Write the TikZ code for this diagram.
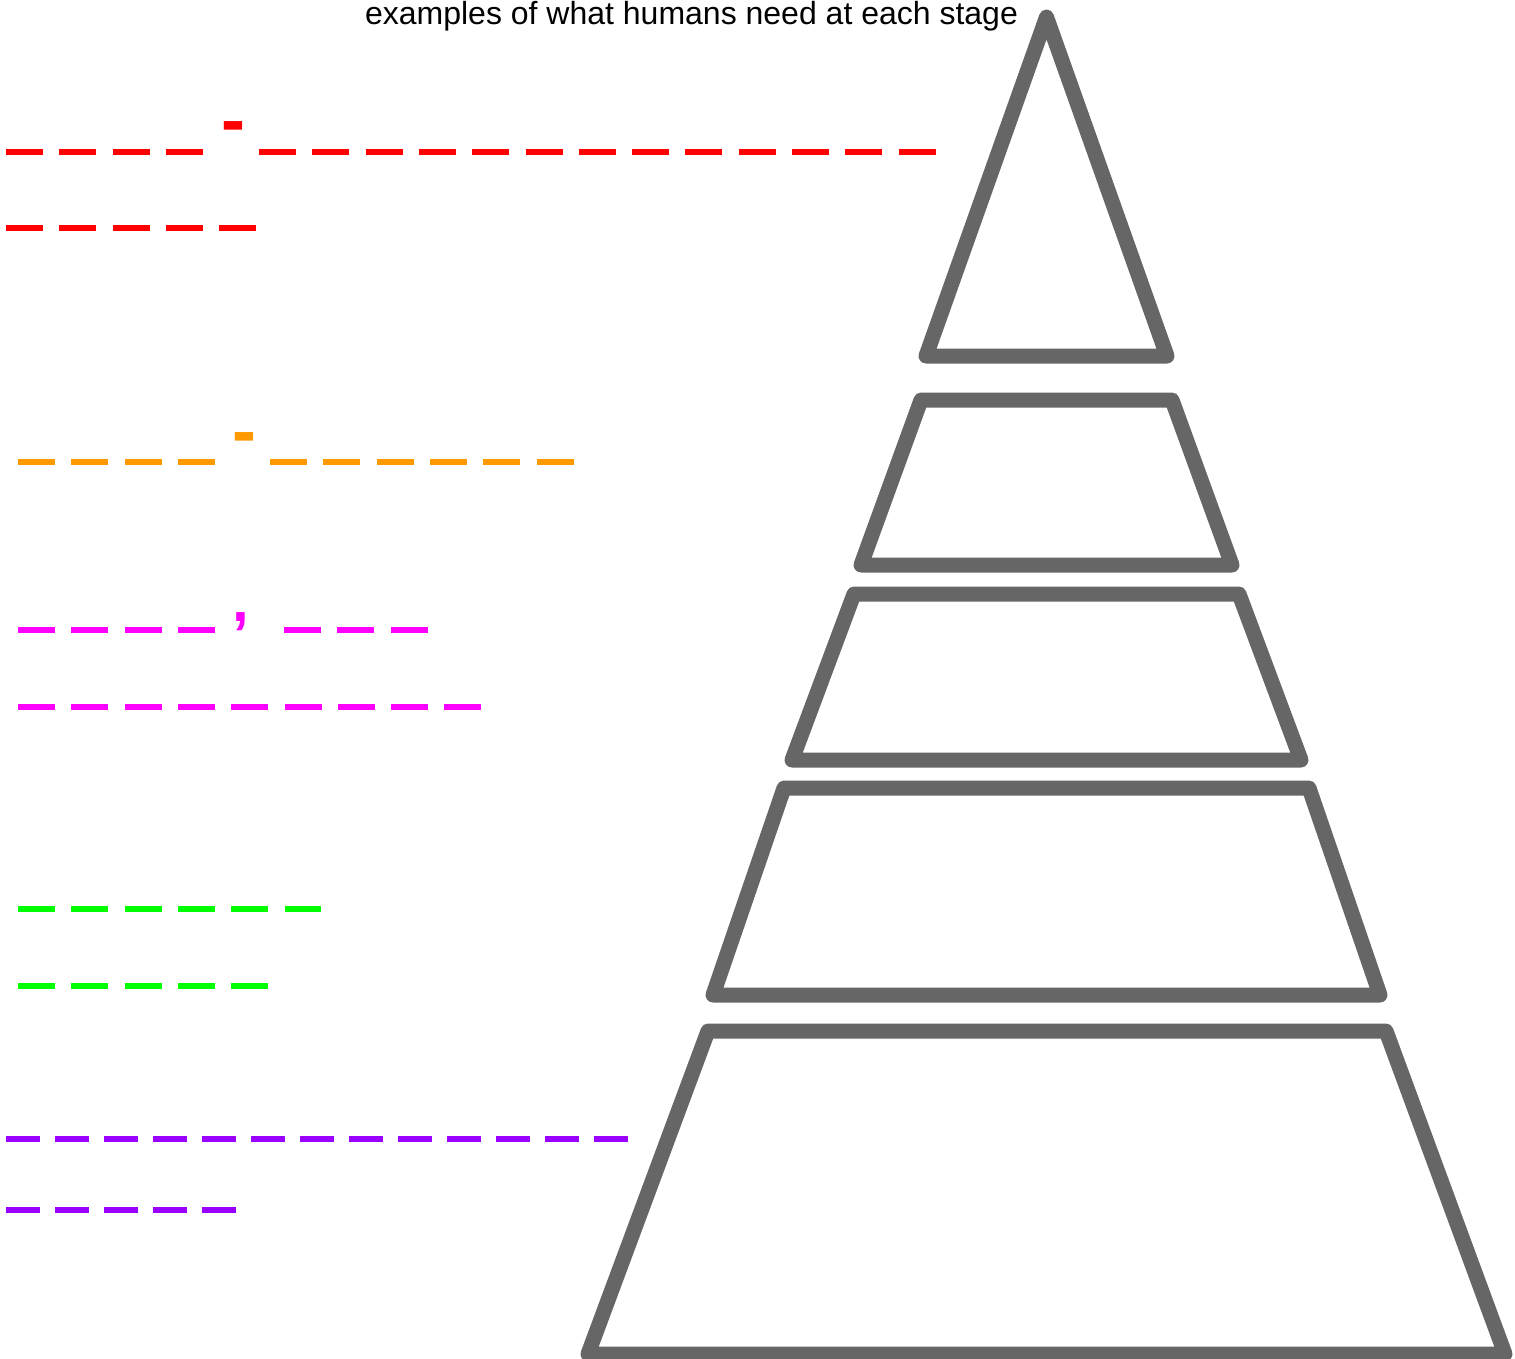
\documentclass[tikz,border=0pt]{standalone}
\usepackage{fontspec}
\setmainfont{Liberation Sans}
\usepackage{xcolor}
\usetikzlibrary{positioning}
\definecolor{tiergray}{HTML}{666666}
\definecolor{stagered}{HTML}{FF0000}
\definecolor{stageorange}{HTML}{FF9900}
\definecolor{stagepink}{HTML}{FF00FF}
\definecolor{stagegreen}{HTML}{00FF00}
\definecolor{stagepurple}{HTML}{9900FF}
\tikzset{
  tier/.style={draw=tiergray, line width=7.5pt, line join=round},
  blankline/.style={line width=3pt, dash pattern=on 18.5pt off 8.15pt},
  blankshort/.style={line width=3pt, dash pattern=on 17pt off 7.5pt},
  punct/.style={inner sep=0pt, anchor=north, font=\fontsize{36pt}{36pt}\selectfont\bfseries},
  heading/.style={inner sep=0pt, anchor=base, font=\fontsize{16pt}{19pt}\selectfont},
}

\begin{document}
\begin{tikzpicture}[x=0.5pt, y=-0.5pt]
  \useasboundingbox (0,0) rectangle (1515,1359);

  \node[heading] (title) at (691.5,25) {examples of what humans need at each stage};

  % pyramid, top to bottom
  \draw[tier] (1046.5,17) -- (1167,356) -- (926,356) -- cycle;
  \draw[tier] (921,400) -- (1172,400) -- (1232,565) -- (861,565) -- cycle;
  \draw[tier] (854,594) -- (1239,594) -- (1301,760) -- (792,760) -- cycle;
  \draw[tier] (784,788) -- (1309,788) -- (1380,995) -- (713,995) -- cycle;
  \draw[tier] (708,1031) -- (1386,1031) -- (1505,1354) -- (588,1354) -- cycle;

  % fill-in blanks
  \draw[blankline, stagered] (6,152) -- (203,152);
  \node[punct, stagered] (redmark) at (233,121) {-};
  \draw[blankline, stagered] (259,152) -- (936,152);
  \draw[blankline, stagered] (6,228) -- (257,228);

  \draw[blankline, stageorange] (18,462) -- (215,462);
  \node[punct, stageorange] (orangemark) at (244,432) {-};
  \draw[blankline, stageorange] (270,462) -- (574,462);

  \draw[blankline, stagepink] (18,630) -- (215,630);
  \node[punct, stagepink, font=\fontsize{30pt}{30pt}\selectfont\bfseries] (pinkmark) at (240.5,612) {,};
  \draw[blankline, stagepink] (284,630) -- (428,630);
  \draw[blankline, stagepink] (18,707) -- (482,707);

  \draw[blankline, stagegreen] (18,909) -- (321,909);
  \draw[blankline, stagegreen] (18,986) -- (268,986);

  \draw[blankshort, stagepurple] (6,1139) -- (628,1139);
  \draw[blankshort, stagepurple] (6,1210) -- (236,1210);
\end{tikzpicture}
\end{document}
